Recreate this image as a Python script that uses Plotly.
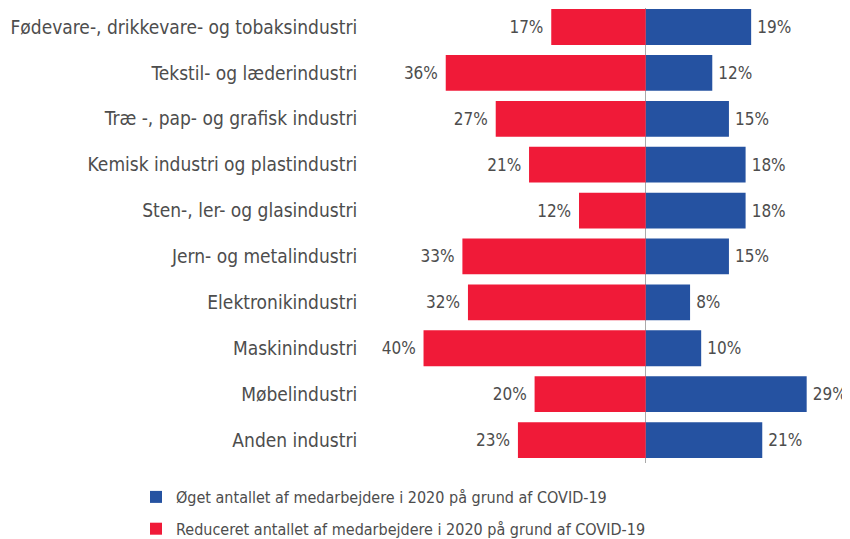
import plotly.graph_objects as go

categories = [
    "Fødevare-, drikkevare- og tobaksindustri",
    "Tekstil- og læderindustri",
    "Træ -, pap- og grafisk industri",
    "Kemisk industri og plastindustri",
    "Sten-, ler- og glasindustri",
    "Jern- og metalindustri",
    "Elektronikindustri",
    "Maskinindustri",
    "Møbelindustri",
    "Anden industri",
]
reduced = [17, 36, 27, 21, 12, 33, 32, 40, 20, 23]
increased = [19, 12, 15, 18, 18, 15, 8, 10, 29, 21]

name_inc = "Øget antallet af medarbejdere i 2020 på grund af COVID-19"
name_red = "Reduceret antallet af medarbejdere i 2020 på grund af COVID-19"

FONT = "DejaVu Sans Condensed, Roboto Condensed, Roboto, sans-serif"
TXT = "#4d4d4d"
NB = "\u00a0"
TS = "\u2009"

W, H = 842, 531
L, T, B = 360, 0, 76
PW = W - L
PH = H - T - B
SCALE = 472 / 85.0
XMIN = -50
XMAX = XMIN + PW / SCALE

fig = go.Figure()
fig.add_trace(go.Bar(
    y=categories, x=increased, orientation="h", name=name_inc,
    legendgroup="inc",
    marker=dict(color="#2552a1", line=dict(width=0)),
    text=[f"{TS}{v}%" for v in increased], textposition="outside",
    textfont=dict(size=17, color=TXT, family=FONT), cliponaxis=False,
))
fig.add_trace(go.Bar(
    y=categories, x=[-v for v in reduced], orientation="h", name=name_red,
    legendgroup="red",
    marker=dict(color="#f01a38", line=dict(width=0)),
    text=[f"{v}%{NB}" for v in reduced], textposition="outside",
    textfont=dict(size=17, color=TXT, family=FONT), cliponaxis=False,
))

fig.update_layout(
    width=W, height=H,
    margin=dict(l=L, r=0, t=T, b=B, pad=0, autoexpand=False),
    barmode="relative", bargap=0.22,
    plot_bgcolor="white", paper_bgcolor="white",
    font=dict(family=FONT, size=16, color=TXT),
    showlegend=True,
    legend=dict(
        xref="paper", yref="paper",
        x=(128 - L) / PW, y=-(472 - PH) / PH, xanchor="left", yanchor="top",
        orientation="v", traceorder="grouped",
        font=dict(size=16, color=TXT, family=FONT),
        itemwidth=30, tracegroupgap=8,
    ),
    xaxis=dict(range=[XMIN, XMAX], showgrid=False, showticklabels=False,
               zeroline=True, zerolinecolor="#aaaaaa", zerolinewidth=1,
               showline=False, fixedrange=True, automargin=False),
    yaxis=dict(range=[9.5, -0.414], showgrid=False, showline=False,
               ticks="outside", ticklen=6, tickcolor="rgba(0,0,0,0)",
               automargin=False,
               tickfont=dict(size=19, color=TXT, family=FONT)),
)

fig.write_html("out.html")
